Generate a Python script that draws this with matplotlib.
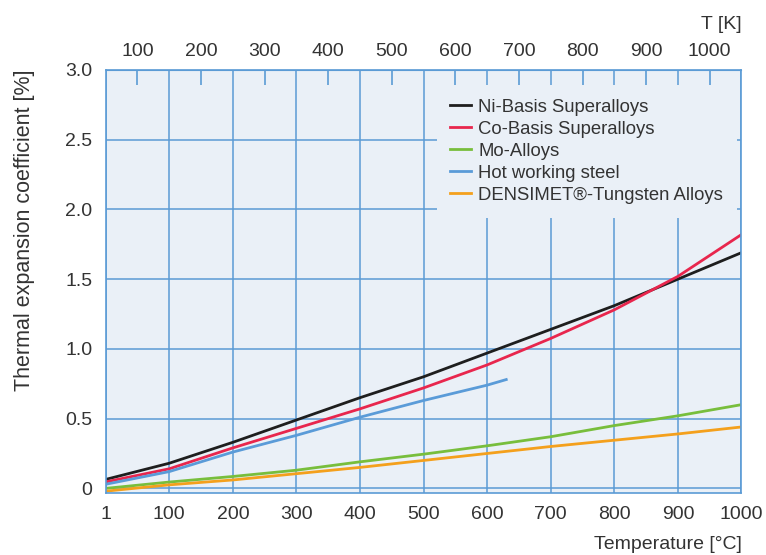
import matplotlib
matplotlib.use("Agg")
import matplotlib.pyplot as plt

plt.rcParams["font.family"] = ["Liberation Sans", "DejaVu Sans"]

# Temperature grid in degC
temps = [1, 100, 200, 300, 400, 500, 600, 700, 800, 900, 1000]
ni_basis = [0.065, 0.18, 0.33, 0.49, 0.65, 0.80, 0.97, 1.14, 1.31, 1.50, 1.69]
co_basis = [0.047, 0.14, 0.29, 0.43, 0.57, 0.72, 0.885, 1.075, 1.28, 1.52, 1.82]
mo_alloys = [0.00, 0.045, 0.085, 0.13, 0.19, 0.245, 0.305, 0.37, 0.45, 0.52, 0.60]
densimet = [-0.02, 0.025, 0.06, 0.105, 0.15, 0.20, 0.25, 0.30, 0.345, 0.39, 0.44]

# hot working steel only measured up to ~630 degC
steel_temps = [1, 100, 200, 300, 400, 500, 600, 630]
hot_steel = [0.03, 0.12, 0.26, 0.38, 0.51, 0.63, 0.74, 0.78]

x_ticks = [1, 100, 200, 300, 400, 500, 600, 700, 800, 900, 1000]
y_ticks = [0, 0.5, 1.0, 1.5, 2.0, 2.5, 3.0]
y_labels = ["0", "0.5", "1.0", "1.5", "2.0", "2.5", "3.0"]
kelvin_pos = [50, 150, 250, 350, 450, 550, 650, 750, 850, 950]
kelvin_labels = ["100", "200", "300", "400", "500", "600", "700", "800", "900", "1000"]

GRID = "#5B9BD5"
BG = "#EAF0F7"
TEXT = "#333333"

fig = plt.figure(figsize=(7.66, 5.55), dpi=100)
ax = fig.add_axes([0.1388, 0.1126, 0.8292, 0.7613])
ax.set_facecolor(BG)

lw = 2.0
ax.plot(temps, ni_basis, color="#1E1E1E", lw=lw, label="Ni-Basis Superalloys")
ax.plot(temps, co_basis, color="#E8264D", lw=lw, label="Co-Basis Superalloys")
ax.plot(temps, mo_alloys, color="#78BE3C", lw=lw, label="Mo-Alloys")
ax.plot(steel_temps, hot_steel, color="#5A9BD8", lw=lw, label="Hot working steel")
ax.plot(temps, densimet, color="#F4A01C", lw=lw, label="DENSIMET\u00ae-Tungsten Alloys")

ax.set_xlim(1, 1000)
ax.set_ylim(-0.03, 3.0)
ax.set_xticks(x_ticks)
ax.set_yticks(y_ticks)
ax.set_yticklabels(y_labels)
ax.grid(True, color=GRID, lw=1.1)
ax.set_axisbelow(True)
for side in ax.spines.values():
    side.set_color(GRID)
    side.set_linewidth(1.2)
ax.tick_params(axis="both", length=0, labelsize=14, labelcolor=TEXT)
ax.tick_params(axis="x", pad=9.5)
ax.tick_params(axis="y", pad=10)

ax.set_xlabel("Temperature [°C]", loc="right", fontsize=14, color=TEXT, labelpad=9.5)
ax.set_ylabel("Thermal expansion coefficient [%]", loc="top", fontsize=15.5,
              color=TEXT, labelpad=22)

# Kelvin scale on top
top = ax.secondary_xaxis("top")
top.set_xticks(kelvin_pos)
top.set_xticklabels(kelvin_labels)
top.tick_params(direction="in", length=10.8, width=1.2, color=GRID,
                labelsize=14, labelcolor=TEXT, pad=7)
top.spines["top"].set_color(GRID)
top.set_xlabel("T [K]", loc="right", fontsize=14, color=TEXT, labelpad=10)

leg = ax.legend(loc="upper left", bbox_to_anchor=(0.52, 0.9645), borderaxespad=0,
                frameon=True, facecolor=BG, edgecolor="none", framealpha=1,
                fancybox=False, fontsize=13.3, labelspacing=0.27, handlelength=1.1,
                handletextpad=0.4, borderpad=0.75)
for t in leg.get_texts():
    t.set_color(TEXT)

fig.savefig("out.png", dpi=100)
